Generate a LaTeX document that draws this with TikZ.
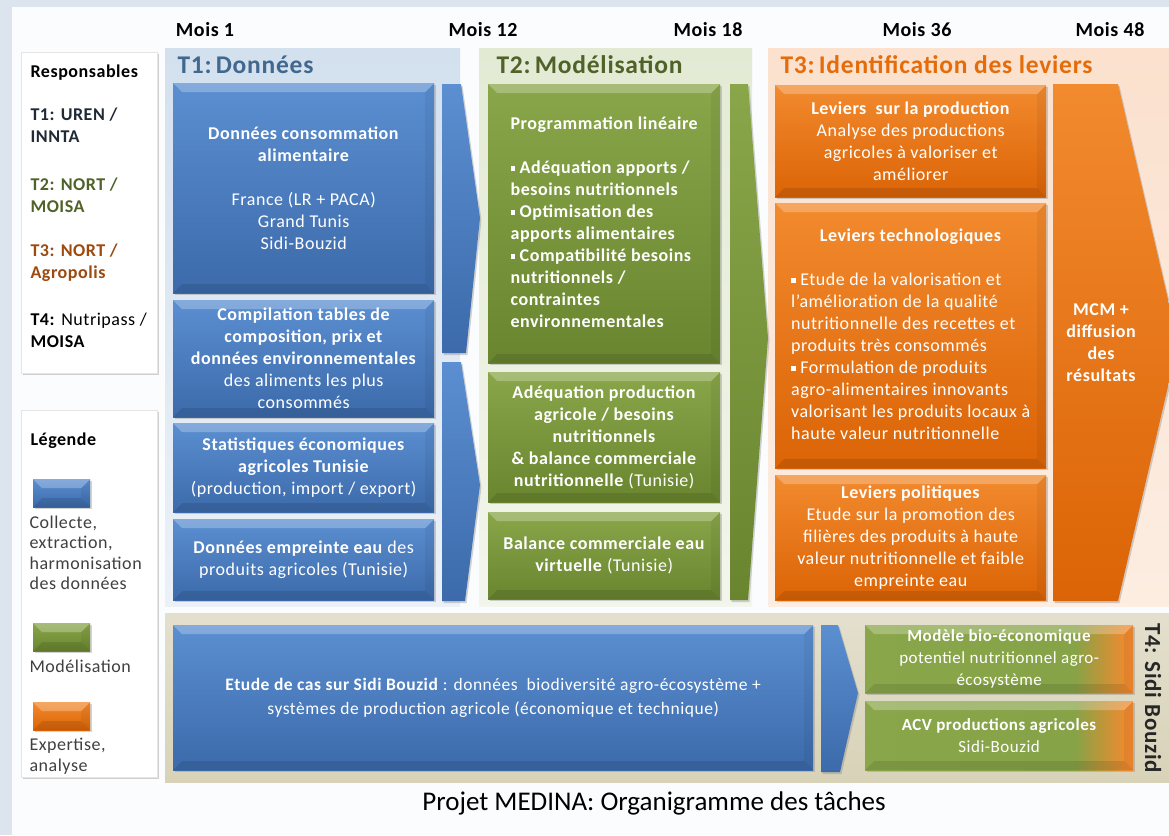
\documentclass[tikz,border=0pt]{standalone}
\usepackage{fontspec}
\setmainfont{Carlito}
\newfontfamily\bxf[LetterSpace=3]{Carlito}
\usetikzlibrary{shadows}
\definecolor{bgout}{HTML}{DCE5EE}
\definecolor{panel}{HTML}{FBFCFD}
\definecolor{bT}{HTML}{5B8FD1}
\definecolor{bB}{HTML}{3C6AAA}
\definecolor{gT}{HTML}{89A64A}
\definecolor{gB}{HTML}{69852F}
\definecolor{oT}{HTML}{F28A2E}
\definecolor{oB}{HTML}{DB6406}
\definecolor{bandA}{HTML}{D3E0EE}
\definecolor{bandB}{HTML}{E3EAD4}
\definecolor{bandC}{HTML}{FBE1CE}
\definecolor{bandD}{HTML}{D8D2B8}
\definecolor{hA}{HTML}{42688F}
\definecolor{hB}{HTML}{4F6228}
\definecolor{hC}{HTML}{E46C0A}
\definecolor{rA}{HTML}{1F2A36}
\definecolor{rB}{HTML}{4F6228}
\definecolor{rC}{HTML}{9C4A0E}
\definecolor{lg}{HTML}{404040}
\pgfdeclarehorizontalshading{gto}{100bp}{color(0bp)=(gT); color(25bp)=(gT); color(64bp)=(gT!90!gB); color(74bp)=(oT); color(100bp)=(oT)}
\newcommand{\sqb}{\raisebox{2.2pt}{\rule{4.5pt}{4.5pt}}\ }
\tikzset{
  bevel/.style={path picture={
    \fill[white,opacity=.25] (path picture bounding box.north west) -- (path picture bounding box.north east) -- ([xshift=-9pt,yshift=-9pt]path picture bounding box.north east) -- ([xshift=9pt,yshift=-9pt]path picture bounding box.north west) -- cycle;
    \fill[black,opacity=.10] (path picture bounding box.south west) -- (path picture bounding box.south east) -- ([xshift=-9pt,yshift=9pt]path picture bounding box.south east) -- ([xshift=9pt,yshift=9pt]path picture bounding box.south west) -- cycle;
    \fill[black,opacity=.05] (path picture bounding box.north east) -- (path picture bounding box.south east) -- ([xshift=-9pt,yshift=9pt]path picture bounding box.south east) -- ([xshift=-9pt,yshift=-9pt]path picture bounding box.north east) -- cycle;
  }},
  shd/.style={drop shadow={shadow xshift=1.5pt,shadow yshift=-2pt,opacity=.35}},
  box/.style={shd, bevel, anchor=north west, inner sep=0pt, text=white, align=center, font=\bxf\fontsize{18}{22}\selectfont},
  bbox/.style={box, top color=bT, bottom color=bB},
  gbox/.style={box, top color=gT, bottom color=gB},
  obox/.style={box, top color=oT, bottom color=oB},
  tbox/.style={box, shading=gto, font=\bxf\fontsize{17}{22}\selectfont},
  sw/.style={shd, bevel, anchor=north west, inner sep=0pt, minimum width=57pt, minimum height=28pt},
  mois/.style={font=\bxf\bfseries\fontsize{20}{24}\selectfont, text=black},
  colh/.style={anchor=west, font=\bxf\bfseries\fontsize{25.5}{28}\selectfont},
  side/.style={anchor=west, align=left, font=\bxf\fontsize{18}{22}\selectfont},
  leg/.style={anchor=north west, align=left, text=lg, font=\bxf\fontsize{18}{20.5}\selectfont},
  card/.style={fill=white, draw=black!10, shd, anchor=north west, inner sep=0pt, minimum width=136pt},
  bigarrow/.style={shd}
}
\begin{document}
\begin{tikzpicture}[x=1pt,y=-1pt]
\useasboundingbox (0,0) rectangle (1169,835);
\fill[bgout] (0,0) rectangle (1169,835);
\fill[panel] (12,7) rectangle (1169,835);
% column bands
\shade[top color=bandA, bottom color=bandA!45!white] (165,48) rectangle (460,606);
\shade[top color=bandB, bottom color=bandB!45!white] (479,48) rectangle (752,606);
\shade[top color=bandC, bottom color=bandC!60!white] (768,48) rectangle (1169,606);
\shade[top color=bandD!70!white, bottom color=bandD] (165,613) rectangle (1169,782);
% month headers
\node[mois] (m01) at (205,30) {Mois 1};
\node[mois] (m12) at (483,30) {Mois 12};
\node[mois] (m18) at (708,30) {Mois 18};
\node[mois] (m36) at (917,30) {Mois 36};
\node[mois] (m48) at (1110,30) {Mois 48};
% column headers
\node[colh, text=hA] (h1) at (174,65) {T1:\,Données};
\node[colh, text=hB] (h2) at (493,65) {T2:\,Modélisation};
\node[colh, text=hC] (h3) at (777,65) {T3:\,Identification des leviers};
% sidebar: responsables
\node[card, minimum height=321pt] (resp) at (21,52) {};
\node[side, text=black] (rt) at (27,73) {\textbf{Responsables}};
\node[side, text=rA] (r1) at (27,125) {\textbf{T1: UREN /}\\\textbf{INNTA}};
\node[side, text=rB] (r2) at (27,195) {\textbf{T2: NORT /}\\\textbf{MOISA}};
\node[side, text=rC] (r3) at (27,263) {\textbf{T3: NORT /}\\\textbf{Agropolis}};
\node[side, text=black] (r4) at (27,330) {\textbf{T4:} Nutripass /\\\textbf{MOISA}};
% sidebar: legend
\node[card, minimum height=367pt] (legbox) at (21,410) {};
\node[side, text=black] (lt) at (27,441) {\textbf{Légende}};
\node[sw, top color=bT, bottom color=bB] (lb) at (33,479) {};
\node[leg] (lbt) at (26,512) {Collecte,\\extraction,\\harmonisation\\des données};
\node[sw, top color=gT, bottom color=gB] (lgn) at (33,623) {};
\node[leg] (lgt) at (26,656) {Modélisation};
\node[sw, top color=oT, bottom color=oB] (lo) at (33,702) {};
\node[leg] (lot) at (26,735) {Expertise,\\analyse};
% T1 boxes
\node[bbox, minimum width=261pt, minimum height=210pt] (d1) at (173,83)
  {\textbf{Données consommation}\\\textbf{alimentaire}\\[22pt]France (LR + PACA)\\Grand Tunis\\Sidi-Bouzid};
\node[bbox, minimum width=261pt, minimum height=117pt] (d2) at (173,300)
  {\textbf{Compilation tables de}\\\textbf{composition, prix et}\\\textbf{données environnementales}\\des aliments les plus\\consommés};
\node[bbox, minimum width=261pt, minimum height=89pt] (d3) at (173,423)
  {\textbf{Statistiques économiques}\\\textbf{agricoles Tunisie}\\(production, import / export)};
\node[bbox, minimum width=261pt, minimum height=81pt] (d4) at (173,519)
  {\textbf{Données empreinte eau} des\\produits agricoles (Tunisie)};
% T1 -> T2 arrows
\path[bigarrow, top color=bT, bottom color=bB] (442,84) -- (461,84) -- (480,218) -- (466,353) -- (442,353) -- cycle;
\path[bigarrow, top color=bT, bottom color=bB] (442,362) -- (461,362) -- (480,485) -- (465,601) -- (442,601) -- cycle;
% T2 boxes
\node[gbox, minimum width=232pt, minimum height=279pt] (g1) at (488,84)
  {\bfseries\begin{tabular}{@{}l@{}}Programmation linéaire\\[22pt]
   \sqb Adéquation apports /\\ besoins nutritionnels\\ \sqb Optimisation des\\ apports alimentaires\\
   \sqb Compatibilité besoins\\ nutritionnels /\\ contraintes\\ environnementales\end{tabular}};
\node[gbox, minimum width=232pt, minimum height=130pt] (g2) at (488,372)
  {\textbf{Adéquation production}\\\textbf{agricole / besoins}\\\textbf{nutritionnels}\\\textbf{\& balance commerciale}\\\textbf{nutritionnelle} (Tunisie)};
\node[gbox, minimum width=232pt, minimum height=87pt] (g3) at (488,512)
  {\textbf{Balance commerciale eau}\\\textbf{virtuelle} (Tunisie)};
% T2 -> T3 arrow
\path[bigarrow, top color=gT, bottom color=gB] (730,84) -- (748,84) -- (768,338) -- (748,600) -- (730,600) -- cycle;
% T3 boxes
\node[obox, minimum width=271pt, minimum height=112pt] (o1) at (775,85)
  {\textbf{Leviers\ \ sur la production}\\Analyse des productions\\agricoles à valoriser et\\améliorer};
\node[obox, minimum width=271pt, minimum height=265pt] (o2) at (775,203)
  {\begin{tabular}{@{}l@{}}\multicolumn{1}{@{}c@{}}{\textbf{Leviers technologiques}}\\[22pt]
   \sqb Etude de la valorisation et\\ l’amélioration de la qualité\\ nutritionnelle des recettes et\\ produits très consommés\\
   \sqb Formulation de produits\\ agro-alimentaires innovants\\ valorisant les produits locaux à\\ haute valeur nutritionnelle\end{tabular}};
\node[obox, minimum width=271pt, minimum height=125pt] (o3) at (775,475)
  {\textbf{Leviers politiques}\\Etude sur la promotion des\\filières des produits à haute\\valeur nutritionnelle et faible\\empreinte eau};
% MCM arrow
\path[bigarrow, top color=oT, bottom color=oB] (1053,84) -- (1118,84) -- (1169,304) -- (1169,382) -- (1118,601) -- (1053,601) -- cycle;
\node[text=white, align=center, font=\bxf\bfseries\fontsize{18}{22}\selectfont] (mcm) at (1101,343) {MCM +\\diffusion\\des\\résultats};
% T4 band
\node[bbox, minimum width=640pt, minimum height=145pt, font=\bxf\fontsize{17.5}{24}\selectfont] (s1) at (173,625)
  {\textbf{Etude de cas sur Sidi Bouzid} : données\ \ biodiversité agro-écosystème +\\systèmes de production agricole (économique et technique)};
\path[bigarrow, top color=bT, bottom color=bB] (821,625) -- (838,625) -- (858,693) -- (840,772) -- (821,772) -- cycle;
\node[tbox, minimum width=268pt, minimum height=68pt] (s2) at (865,625)
  {\textbf{Modèle bio-économique}\\potentiel nutritionnel agro-\\écosystème};
\node[tbox, minimum width=268pt, minimum height=69pt] (s3) at (865,701)
  {\textbf{ACV productions agricoles}\\Sidi-Bouzid};
\node[rotate=-90, text=black!85, font=\bxf\bfseries\fontsize{23}{26}\selectfont] (t4) at (1153,698) {T4: Sidi Bouzid};
% title
\node[font=\fontsize{27}{30}\selectfont, text=black] (title) at (654,803) {Projet MEDINA: Organigramme des tâches};
\end{tikzpicture}
\end{document}
